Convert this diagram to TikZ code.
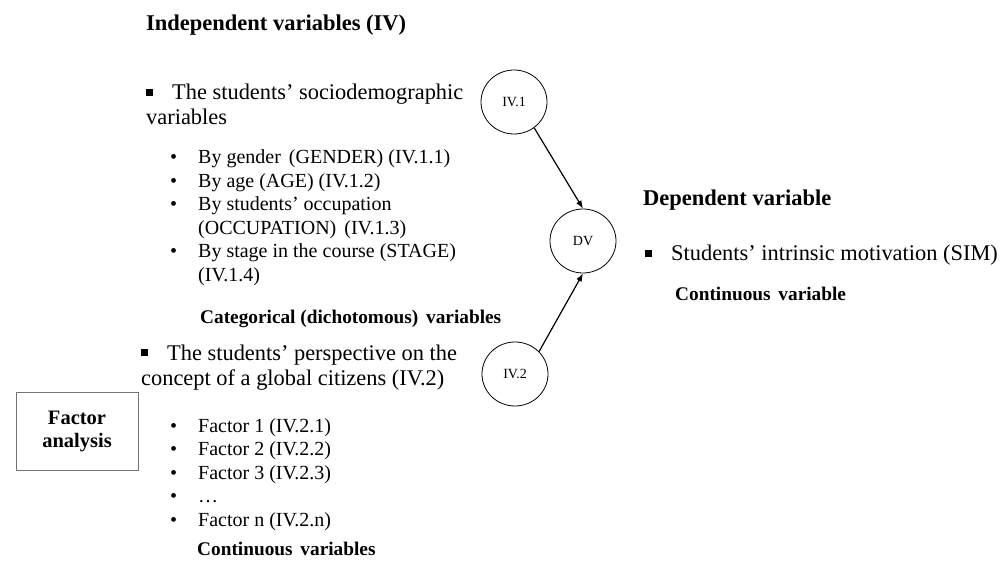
\documentclass[tikz,border=0pt]{standalone}
\usepackage{fontspec}
\setmainfont{Liberation Serif}
\usetikzlibrary{shapes.geometric, arrows.meta}

\newcommand{\sqbul}{\makebox[26pt][l]{\rule[4pt]{7pt}{7pt}}}
\newcommand{\dotbul}{\makebox[28pt][l]{\textbullet}}
\newcommand{\noitem}{\hspace{28pt}}
\newcommand{\lines}[1]{\begin{tabular}[t]{@{}l@{}}#1\end{tabular}}

\begin{document}
\begin{tikzpicture}[
    x=1pt, y=-1pt,
    heading/.style={font=\fontsize{22.5}{26}\selectfont\bfseries, inner sep=0pt, anchor=base west},
    point/.style={font=\fontsize{22.4}{25}\selectfont, inner sep=0pt, anchor=base west},
    itemlist/.style={font=\fontsize{20}{23.5}\selectfont, inner sep=0pt, anchor=base west},
    kind/.style={font=\fontsize{19.3}{22}\selectfont\bfseries, inner sep=0pt, anchor=base west},
    var/.style={ellipse, draw, line width=0.8pt, minimum width=66pt, minimum height=64pt, inner sep=0pt, font=\fontsize{14}{16}\selectfont},
    method/.style={rectangle, draw=black!55, line width=1pt, minimum width=122pt, minimum height=78pt, align=center, font=\fontsize{20.5}{23}\selectfont\bfseries},
    arrow/.style={-{Latex[length=8pt, width=6pt]}, line width=1.2pt}
]
\useasboundingbox (0,0) rectangle (1006,561);

% Independent variables
\node[heading] (ivhead) at (146,31) {Independent variables (IV)};

\node[point] (socio) at (146,100) {\lines{\sqbul The students’ sociodemographic\\variables}};
\node[itemlist] (sociolist) at (170,164) {\lines{%
    \dotbul By gender\hspace{3pt} (GENDER) (IV.1.1)\\
    \dotbul By age (AGE) (IV.1.2)\\
    \dotbul By students’ occupation\\
    \noitem (OCCUPATION)\hspace{3pt} (IV.1.3)\\
    \dotbul By stage in the course (STAGE)\\
    \noitem (IV.1.4)}};
\node[kind] (catkind) at (200,323) {Categorical (dichotomous)\hspace{3pt} variables};

\node[point] (persp) at (141,360) {\lines{\sqbul The students’ perspective on the\\concept of a global citizens (IV.2)}};
\node[itemlist] (factorlist) at (170,432) {\lines{%
    \dotbul Factor 1 (IV.2.1)\\
    \dotbul Factor 2 (IV.2.2)\\
    \dotbul Factor 3 (IV.2.3)\\
    \dotbul …\\
    \dotbul Factor n (IV.2.n)}};
\node[kind] (contkind) at (197,555) {Continuous\hspace{3pt} variables};

\node[method] (factoranalysis) at (77,431) {Factor\\analysis};

% Dependent variable
\node[heading] (dvhead) at (643,206) {Dependent variable};
\node[point] (sim) at (645,261) {\sqbul Students’ intrinsic motivation (SIM)};
\node[kind] (contvar) at (675,300) {Continuous\hspace{3pt} variable};

% Model
\node[var] (iv1) at (514,102) {IV.1};
\node[var] (dv) at (583,241) {DV};
\node[var] (iv2) at (515,374) {IV.2};

% Arrows
\draw[arrow] (iv1.-52) -- (dv.north);
\draw[arrow] (iv2.43) -- (dv.south);

\end{tikzpicture}
\end{document}
